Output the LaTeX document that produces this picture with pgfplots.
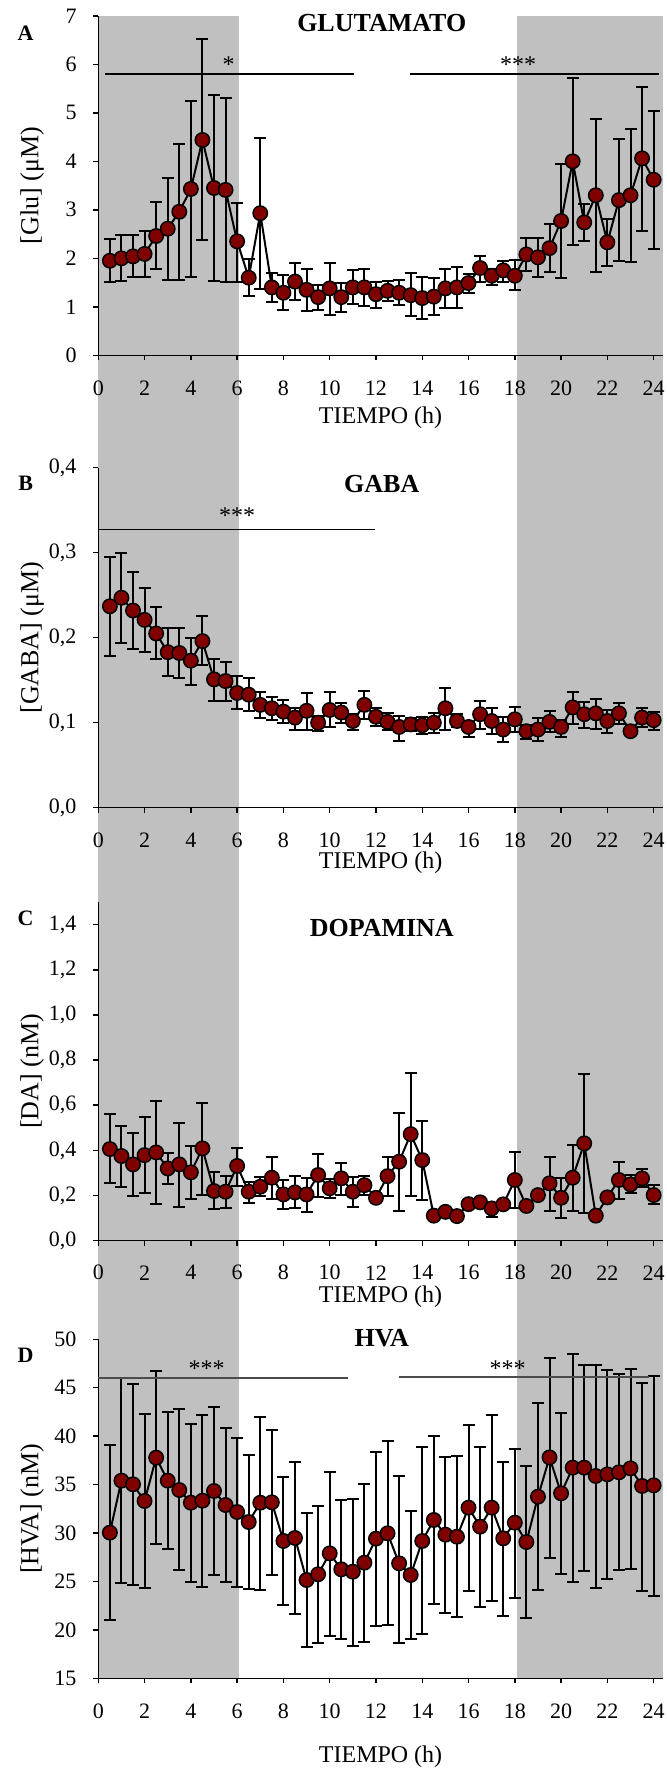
\documentclass[border=0pt]{standalone}
\usepackage{pgfplots}
\pgfplotsset{compat=1.18}
\usepackage{pgfplotstable}
\usepackage{fontspec}
\setmainfont{Liberation Serif}
\usetikzlibrary{backgrounds}
\definecolor{bandgray}{RGB}{192,192,192}
\definecolor{dotred}{RGB}{128,0,0}

\pgfplotstableread{
x y hi lo
0.5 1.95 2.39 1.52
1 2.00 2.48 1.54
1.5 2.04 2.48 1.61
2 2.09 2.57 1.61
2.5 2.46 3.16 1.78
3 2.61 3.65 1.55
3.5 2.96 4.35 1.55
4 3.43 5.25 1.62
4.5 4.44 6.52 2.37
5 3.45 5.36 1.54
5.5 3.41 5.30 1.51
6 2.35 3.15 1.51
6.5 1.60 1.98 1.22
7 2.93 4.49 1.36
7.5 1.40 1.69 1.09
8 1.29 1.66 0.94
8.5 1.52 1.90 1.14
9 1.35 1.78 0.91
9.5 1.20 1.45 0.94
10 1.38 1.90 0.83
10.5 1.20 1.50 0.89
11 1.40 1.76 1.06
11.5 1.40 1.77 1.02
12 1.26 1.52 0.97
12.5 1.33 1.54 1.11
13 1.29 1.55 1.04
13.5 1.24 1.69 0.82
14 1.18 1.62 0.74
14.5 1.21 1.60 0.83
15 1.38 1.78 0.97
15.5 1.40 1.82 0.98
16 1.49 1.68 1.29
16.5 1.80 2.05 1.52
17 1.64 1.77 1.44
17.5 1.75 1.95 1.52
18 1.64 1.97 1.35
18.5 2.08 2.41 1.73
19 2.02 2.41 1.62
19.5 2.21 2.70 1.71
20 2.77 3.94 1.59
20.5 4.00 5.72 2.28
21 2.74 3.12 2.35
21.5 3.30 4.87 1.71
22 2.33 2.81 1.84
22.5 3.20 4.46 1.95
23 3.30 4.66 1.93
23.5 4.06 5.54 2.56
24 3.62 5.03 2.20
}\tabA

\pgfplotstableread{
x y hi lo
0.5 0.237 0.295 0.178
1 0.247 0.300 0.194
1.5 0.232 0.277 0.187
2 0.221 0.259 0.183
2.5 0.205 0.236 0.175
3 0.183 0.211 0.155
3.5 0.182 0.211 0.153
4 0.173 0.200 0.144
4.5 0.196 0.225 0.168
5 0.151 0.175 0.126
5.5 0.149 0.171 0.126
6 0.135 0.155 0.116
6.5 0.133 0.153 0.114
7 0.121 0.136 0.105
7.5 0.117 0.130 0.103
8 0.113 0.127 0.100
8.5 0.106 0.117 0.092
9 0.114 0.135 0.092
9.5 0.100 0.108 0.090
10 0.115 0.136 0.095
10.5 0.112 0.123 0.100
11 0.102 0.110 0.091
11.5 0.121 0.137 0.104
12 0.107 0.117 0.096
12.5 0.101 0.111 0.091
13 0.095 0.108 0.079
13.5 0.098 0.106 0.090
14 0.097 0.107 0.087
14.5 0.100 0.111 0.088
15 0.117 0.141 0.092
15.5 0.102 0.110 0.095
16 0.095 0.101 0.083
16.5 0.110 0.125 0.093
17 0.102 0.117 0.087
17.5 0.092 0.107 0.077
18 0.104 0.119 0.089
18.5 0.090 0.097 0.081
19 0.092 0.106 0.079
19.5 0.101 0.114 0.089
20 0.095 0.103 0.083
20.5 0.118 0.136 0.099
21 0.110 0.124 0.094
21.5 0.111 0.128 0.093
22 0.102 0.115 0.088
22.5 0.111 0.123 0.099
23 0.090 0.095 0.085
23.5 0.106 0.117 0.095
24 0.103 0.113 0.091
}\tabB

\pgfplotstableread{
x y hi lo
0.5 0.406 0.561 0.254
1 0.375 0.509 0.236
1.5 0.338 0.478 0.198
2 0.379 0.549 0.210
2.5 0.391 0.618 0.161
3 0.320 0.387 0.249
3.5 0.338 0.522 0.151
4 0.303 0.419 0.186
4.5 0.409 0.611 0.201
5 0.220 0.304 0.139
5.5 0.217 0.286 0.143
6 0.331 0.412 0.244
6.5 0.217 0.261 0.165
7 0.239 0.280 0.198
7.5 0.279 0.369 0.186
8 0.205 0.269 0.139
8.5 0.214 0.286 0.143
9 0.205 0.279 0.128
9.5 0.291 0.384 0.195
10 0.232 0.272 0.187
10.5 0.276 0.342 0.204
11 0.217 0.283 0.148
11.5 0.246 0.286 0.202
12 0.190 0.200 0.180
12.5 0.286 0.369 0.199
13 0.350 0.567 0.131
13.5 0.472 0.741 0.199
14 0.357 0.530 0.180
14.5 0.111 0.121 0.101
15 0.128 0.138 0.118
15.5 0.109 0.119 0.099
16 0.162 0.172 0.152
16.5 0.170 0.180 0.160
17 0.143 0.160 0.103
17.5 0.161 0.171 0.151
18 0.269 0.394 0.143
18.5 0.154 0.164 0.144
19 0.202 0.212 0.192
19.5 0.254 0.372 0.131
20 0.190 0.279 0.102
20.5 0.279 0.424 0.131
21 0.431 0.737 0.121
21.5 0.111 0.121 0.101
22 0.192 0.202 0.182
22.5 0.269 0.350 0.183
23 0.249 0.291 0.210
23.5 0.276 0.316 0.239
24 0.202 0.246 0.161
}\tabC

\pgfplotstableread{
x y hi lo
0.5 30.04 39.09 20.99
1 35.41 46.04 24.81
1.5 35.03 45.35 24.64
2 33.31 42.29 24.33
2.5 37.78 46.73 28.83
3 35.41 42.53 28.32
3.5 34.44 42.77 26.15
4 33.13 41.26 24.98
4.5 33.34 42.15 24.39
5 34.34 43.04 25.67
5.5 32.89 40.81 24.91
6 32.17 39.78 24.46
6.5 31.14 38.06 24.26
7 33.13 42.01 24.08
7.5 33.17 40.64 25.63
8 29.18 35.78 22.54
8.5 29.49 37.33 21.61
9 25.15 32.10 18.27
9.5 25.74 32.83 18.61
10 27.90 36.27 19.40
10.5 26.25 33.41 19.06
11 26.01 33.55 18.37
11.5 26.94 35.03 18.75
12 29.42 38.40 20.40
12.5 29.97 39.50 20.51
13 26.87 35.92 18.68
13.5 25.67 32.27 19.03
14 29.18 38.85 19.54
14.5 31.35 40.02 22.64
15 29.83 37.81 21.78
15.5 29.62 37.95 21.30
16 32.62 41.15 24.05
16.5 30.66 38.85 22.33
17 32.62 42.19 23.02
17.5 29.45 37.37 21.47
18 31.07 38.71 23.29
18.5 29.07 36.92 21.19
19 33.75 43.39 24.12
19.5 37.81 48.10 27.46
20 34.10 42.43 25.74
20.5 36.75 48.48 24.98
21 36.75 47.35 26.08
21.5 35.89 47.35 24.29
22 36.06 46.83 25.22
22.5 36.27 46.38 26.18
23 36.68 46.93 26.32
23.5 34.86 45.52 24.05
24 34.92 46.25 23.53
}\tabD

\pgfplotsset{
  panel/.style={
    scale only axis, width=282.3pt, xmin=0, xmax=24.4,
    axis x line=bottom, axis y line=left,
    axis line style={-, black, line width=0.75pt},
    tick align=outside, major tick length=2.5pt,
    tick style={black, line width=0.75pt},
    xtick={0,2,...,24}, minor tick num=0,
    clip=false,
    tick label style={font=\fontsize{11}{13}\selectfont},
    /pgf/number format/assume math mode=true,
    x tick label style={anchor=center, inner sep=0pt, yshift=-14pt},
    y tick label style={anchor=east, inner sep=0pt, xshift=-8.2pt},
    xlabel={TIEMPO (h)},
    every axis y label/.style={at={(axis description cs:-0.1174,0.5)}, rotate=90, anchor=center,
      font=\fontsize{13}{15}\selectfont},
    every axis x label/.style={at={(axis description cs:0.5,0)}, anchor=center, inner sep=0pt,
      font=\fontsize{12}{14}\selectfont},
  },
  series/.style={black, line width=1pt, mark=*, mark size=3.6pt,
    mark options={fill=dotred, draw=black, line width=0.75pt},
    error bars/.cd, y dir=both, y explicit,
    error bar style={black, line width=1pt},
    error mark options={rotate=90, mark size=3pt, line width=1pt, black}},
}
\tikzset{
  letter/.style={font=\bfseries\fontsize{11}{13}\selectfont},
  ttl/.style={font=\bfseries\fontsize{13}{15}\selectfont},
  ast/.style={anchor=base, inner sep=0pt, font=\fontsize{12}{14}\selectfont},
}

\begin{document}
\begin{tikzpicture}
\useasboundingbox (0,0) rectangle (333pt,-884.5pt);

% ---------------- A
\begin{axis}[panel, at={(49.15pt,-177.65pt)}, anchor=south west, height=169.75pt,
  ymin=0, ymax=7, ytick={0,1,2,3,4,5,6,7},
  ylabel={[Glu] (μM)}, xlabel style={yshift=-31pt}]
\coordinate (gL) at (axis cs:0,7);
\coordinate (gR) at (axis cs:18.09,7);
\addplot[series] table[x=x, y=y, y error plus expr=\thisrow{hi}-\thisrow{y}, y error minus expr=\thisrow{y}-\thisrow{lo}] {\tabA};
\draw[black, line width=0.75pt] (axis cs:0.29,5.8) -- (axis cs:11.04,5.8);
\draw[black, line width=0.75pt] (axis cs:13.49,5.8) -- (axis cs:24.22,5.8);
\node[ast] at (axis cs:5.63,5.84) {*};
\node[ast] at (axis cs:18.14,5.84) {***};
\node[ttl] at (axis cs:12.25,6.86) {GLUTAMATO};
\node[letter] at (axis cs:-3.14,6.64) {A};
\end{axis}

% ---------------- B
\begin{axis}[panel, at={(49.15pt,-403.85pt)}, anchor=south west, height=170pt,
  ymin=0, ymax=0.4, ytick={0,0.1,0.2,0.3,0.4},
  y tick label style={/pgf/number format/.cd, fixed, fixed zerofill, precision=1, use comma},
  ylabel={[GABA] (μM)}, xlabel style={yshift=-27.5pt}]
\addplot[series] table[x=x, y=y, y error plus expr=\thisrow{hi}-\thisrow{y}, y error minus expr=\thisrow{y}-\thisrow{lo}] {\tabB};
\draw[black, line width=0.75pt] (axis cs:0,0.3275) -- (axis cs:11.97,0.3275);
\node[ast] at (axis cs:6.0,0.334) {***};
\node[ttl] at (axis cs:12.25,0.381) {GABA};
\node[letter] at (axis cs:-3.14,0.382) {B};
\end{axis}

% ---------------- C
\begin{axis}[panel, at={(49.15pt,-620.35pt)}, anchor=south west, height=169.35pt,
  ymin=0, ymax=1.5, ytick={0,0.2,0.4,0.6,0.8,1.0,1.2,1.4},
  y tick label style={/pgf/number format/.cd, fixed, fixed zerofill, precision=1, use comma},
  x tick label style={yshift=0.5pt},
  ylabel={[DA] (nM)}, xlabel style={yshift=-27.8pt}]
\addplot[series] table[x=x, y=y, y error plus expr=\thisrow{hi}-\thisrow{y}, y error minus expr=\thisrow{y}-\thisrow{lo}] {\tabC};
\node[ttl] at (axis cs:12.25,1.383) {DOPAMINA};
\node[letter] at (axis cs:-3.14,1.429) {C};
\end{axis}

% ---------------- D
\begin{axis}[panel, at={(49.15pt,-839.15pt)}, anchor=south west, height=169.5pt,
  ymin=15, ymax=50, ytick={15,20,25,30,35,40,45,50},
  ylabel={[HVA] (nM)}, xlabel style={yshift=-39.2pt}]
\coordinate (hL) at (axis cs:6.07,15);
\coordinate (hR) at (axis cs:24.4,15);
\addplot[series] table[x=x, y=y, y error plus expr=\thisrow{hi}-\thisrow{y}, y error minus expr=\thisrow{y}-\thisrow{lo}] {\tabD};
\draw[black!70, line width=1.1pt] (axis cs:0,46.04) -- (axis cs:10.78,46.04);
\draw[black!70, line width=1.1pt] (axis cs:13.01,46.14) -- (axis cs:23.78,46.14);
\node[ast] at (axis cs:4.68,46.2) {***};
\node[ast] at (axis cs:17.69,46.2) {***};
\node[ttl] at (axis cs:12.25,50.08) {HVA};
\node[letter] at (axis cs:-3.14,48.37) {D};
\end{axis}

\begin{scope}[on background layer]
\fill[bandgray] (gL) rectangle (hL);
\fill[bandgray] (gR) rectangle (hR);
\end{scope}
\end{tikzpicture}
\end{document}
